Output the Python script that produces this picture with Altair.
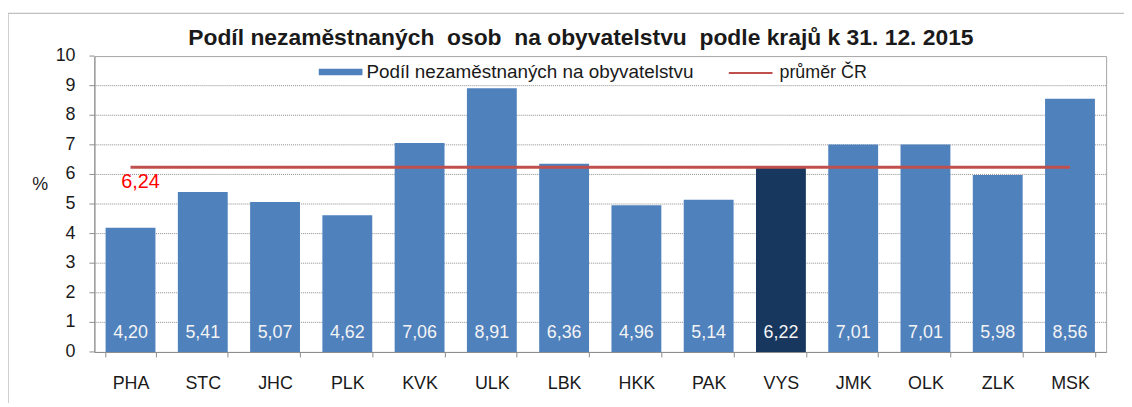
import altair as alt
import pandas as pd

categories = ["PHA", "STC", "JHC", "PLK", "KVK", "ULK", "LBK", "HKK", "PAK", "VYS", "JMK", "OLK", "ZLK", "MSK"]
values = [4.20, 5.41, 5.07, 4.62, 7.06, 8.91, 6.36, 4.96, 5.14, 6.22, 7.01, 7.01, 5.98, 8.56]
average = 6.24
y_ticks = [0, 1, 2, 3, 4, 5, 6, 7, 8, 9, 10]
series_bar = "Podíl nezaměstnaných na obyvatelstvu"
series_line = "průměr ČR"
highlight = "VYS"
title_text = "Podíl nezaměstnaných\u00a0 osob\u00a0 na obyvatelstvu\u00a0 podle krajů k 31. 12. 2015"

FONT = "Liberation Sans"
TXT = "#1a1a1a"
AX = "#8c8c8c"
W, H = 1019, 298

df = pd.DataFrame({
    "kraj": categories,
    "hodnota": values,
    "zero": [0] * len(categories),
    "label": [f"{v:.2f}".replace(".", ",") for v in values],
    "grp": [highlight if c == highlight else series_bar for c in categories],
    "avg": [average] * len(categories),
    "s": [series_line] * len(categories),
})
avg_df = pd.DataFrame({"kraj": [categories[0]], "avg": [average],
                       "label": [f"{average:.2f}".replace(".", ",")]})
tick_df = pd.DataFrame({"v": y_ticks, "t": [str(v) for v in y_ticks]})
grid_df = pd.DataFrame({"v": [v for v in y_ticks if 0 < v < 10]})

x_axis = alt.Axis(labelAngle=0, labelFontSize=18, labelFont=FONT, labelColor=TXT,
                  labelPadding=18, tickBand="extent", tickSize=5, tickColor=AX,
                  domainColor=AX, grid=False)
x_scale = alt.Scale(paddingInner=0.31, paddingOuter=0.155)
y_scale = alt.Scale(domain=[0, 10], nice=False)
y_axis = alt.Axis(labels=False, ticks=False, grid=False, domainColor=AX,
                  titleAngle=0, titleFontSize=18, titleFont=FONT, titleFontWeight="normal",
                  titleX=-55, titleY=138, titleColor=TXT)


def X():
    return alt.X("kraj:N", sort=categories, title=None, scale=x_scale, axis=x_axis)


def Y(field):
    return alt.Y(field, scale=y_scale, title="%", axis=y_axis)


border = alt.Chart(pd.DataFrame({"a": [0]})).mark_rect(
    fill=None, stroke="#c0c0c0", strokeWidth=1.5, clip=False
).encode(x=alt.value(-87), x2=alt.value(1300), y=alt.value(-43), y2=alt.value(600))

title = alt.Chart(pd.DataFrame({"t": [title_text]})).mark_text(
    fontSize=23, font=FONT, fontWeight="bold", color=TXT, baseline="middle", align="center"
).encode(x=alt.value(490), y=alt.value(-18), text="t:N")

grid = alt.Chart(grid_df).mark_rule(color=AX, strokeDash=[1, 1], strokeWidth=1).encode(
    y=Y("v:Q"), x=alt.value(0), x2=alt.value(W))

yticks = alt.Chart(tick_df).mark_rule(color=AX, strokeWidth=1, clip=False).encode(
    y=Y("v:Q"), x=alt.value(-5), x2=alt.value(0))

ylabels = alt.Chart(tick_df).mark_text(
    fontSize=18, font=FONT, color=TXT, align="right", baseline="middle", clip=False
).encode(y=Y("v:Q"), x=alt.value(-19), text="t:N")

bars = alt.Chart(df).mark_bar().encode(
    x=X(),
    y=Y("hodnota:Q"),
    color=alt.Color("grp:N", scale=alt.Scale(domain=[series_bar, highlight],
                                            range=["#4f81bd", "#17375e"]),
                    legend=alt.Legend(values=[series_bar], title=None, orient="none",
                                      legendX=226, legendY=-6, labelLimit=500,
                                      symbolType="M-1,-0.15L1,-0.15L1,0.15L-1,0.15Z",
                                      symbolSize=1936, symbolStrokeWidth=0, labelFontSize=19,
                                      labelFont=FONT, labelColor=TXT, labelOffset=4)),
)

bar_labels = alt.Chart(df).mark_text(
    color="#f4f4f4", fontSize=18, font=FONT, dy=-19, baseline="middle"
).encode(x=X(), y=Y("zero:Q"), text="label:N")

line = alt.Chart(df).mark_line(strokeWidth=3).encode(
    x=X(),
    y=Y("avg:Q"),
    stroke=alt.Stroke("s:N", scale=alt.Scale(range=["#c0504d"]),
                      legend=alt.Legend(title=None, orient="none", legendX=638, legendY=-6,
                                        symbolType="stroke", symbolSize=1936, symbolStrokeWidth=2,
                                        labelFontSize=18, labelFont=FONT, labelColor=TXT,
                                        labelOffset=6, labelLimit=300)),
)

avg_label = alt.Chart(avg_df).mark_text(
    color="#ff0000", fontSize=20, font=FONT, dx=10, dy=15, baseline="middle"
).encode(x=X(), y=Y("avg:Q"), text="label:N")

chart = alt.layer(border, title, grid, yticks, ylabels, bars, bar_labels, line, avg_label).properties(
    width=W, height=H,
    autosize=alt.AutoSizeParams(type="none"),
    padding={"left": 87, "top": 47, "right": 18, "bottom": 50},
    background="white",
).configure_view(stroke="#a6a6a6")

chart.save("out.html", embed_options={"renderer": "svg", "actions": False})
